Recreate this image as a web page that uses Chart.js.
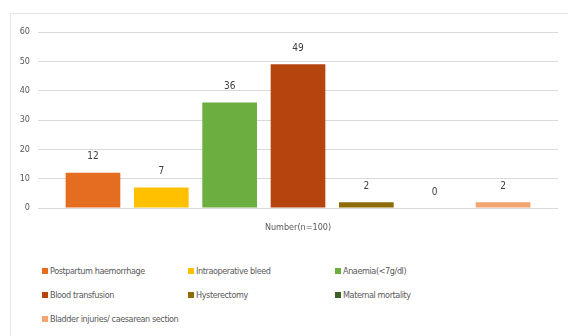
<!DOCTYPE html>
<html><head><meta charset="utf-8">
<script src="https://cdn.jsdelivr.net/npm/chart.js@4/dist/chart.umd.min.js"></script>
<style>
html,body{margin:0;padding:0;background:#fff;width:568px;height:336px;overflow:hidden;font-family:"Liberation Sans Narrow","DejaVu Sans Condensed",sans-serif;}
#frame{position:absolute;left:10px;top:13px;width:570px;height:330px;border:1px solid #e6e6e6;box-sizing:border-box;}
#wrap{position:absolute;left:10px;top:13px;width:558px;height:228px;}
#legend{position:absolute;left:42px;top:266px;width:520px;display:grid;grid-template-columns:146px 147px 200px;row-gap:14px;font-size:9px;letter-spacing:-0.4px;color:#595959;font-family:"DejaVu Sans Condensed","Liberation Sans Narrow",sans-serif;font-stretch:condensed;}
#legend div{display:flex;align-items:center;white-space:nowrap;height:10px;}
#legend span.sw{display:inline-block;flex-shrink:0;width:6px;height:6px;margin-right:2px;}
</style></head>
<body>
<div id="frame"></div>
<div id="wrap"><canvas id="c"></canvas></div>
<div id="legend"></div>
<script>
const categories = ["Number(n=100)"];
const seriesNames = ["Postpartum haemorrhage","Intraoperative bleed","Anaemia(<7g/dl)","Blood transfusion","Hysterectomy","Maternal mortality","Bladder injuries/ caesarean section"];
const seriesValues = [[12],[7],[36],[49],[2],[0],[2]];
const seriesColors = ["#E56D20","#FFC000","#6DAE41","#B5440F","#8E6B05","#3B6124","#F2A56F"];
const yTicks = [0,10,20,30,40,50,60];
const FONT = '"DejaVu Sans Condensed","Liberation Sans Narrow",sans-serif';

const valueLabels = {
  id:'valueLabels',
  afterDatasetsDraw(chart){
    const ctx = chart.ctx;
    ctx.save();
    ctx.font = '10px ' + FONT;
    ctx.fillStyle = '#404040';
    ctx.textAlign = 'center';
    ctx.textBaseline = 'middle';
    chart.data.datasets.forEach((ds,i)=>{
      chart.getDatasetMeta(i).data.forEach((bar,j)=>{
        ctx.fillText(String(ds.data[j]), bar.x, bar.y - 16);
      });
    });
    ctx.restore();
  }
};

new Chart(document.getElementById('c'),{
  type:'bar',
  data:{
    labels:categories,
    datasets:seriesNames.map((n,i)=>({label:n,data:seriesValues[i],backgroundColor:seriesColors[i],borderWidth:0}))
  },
  options:{
    responsive:true,maintainAspectRatio:false,animation:false,
    layout:{padding:{top:19,right:10,left:0,bottom:0}},
    datasets:{bar:{barPercentage:0.8,categoryPercentage:0.92}},
    plugins:{legend:{display:false},tooltip:{enabled:false}},
    scales:{
      x:{
        grid:{display:false},border:{display:false},
        ticks:{color:'#595959',font:{size:9,family:FONT},padding:6},
        afterFit(s){s.height=33;}
      },
      y:{
        min:0,max:60,
        afterBuildTicks(s){s.ticks=yTicks.map(v=>({value:v}));},
        grid:{color:'#d9d9d9',drawTicks:false},border:{display:false},
        ticks:{color:'#595959',font:{size:9,family:FONT},padding:8},
        afterFit(s){s.width=28;}
      }
    }
  },
  plugins:[valueLabels]
});

const lg = document.getElementById('legend');
seriesNames.forEach((n,i)=>{
  const d=document.createElement('div');
  const sw=document.createElement('span');sw.className='sw';sw.style.background=seriesColors[i];
  d.appendChild(sw);d.appendChild(document.createTextNode(n));lg.appendChild(d);
});
</script>
</body></html>
